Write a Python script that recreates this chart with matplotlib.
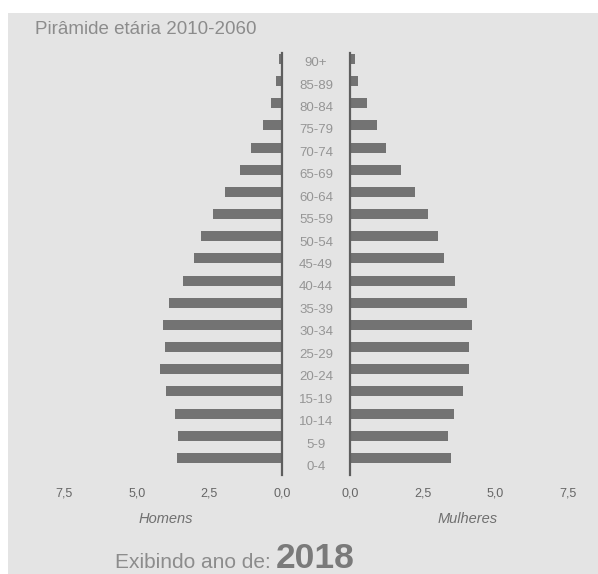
import numpy as np
import matplotlib.pyplot as plt
from matplotlib.patches import Rectangle

plt.rcParams['font.family'] = ['Liberation Sans', 'DejaVu Sans']

# age groups, youngest first
grupos = ['0-4', '5-9', '10-14', '15-19', '20-24', '25-29', '30-34', '35-39',
          '40-44', '45-49', '50-54', '55-59', '60-64', '65-69', '70-74',
          '75-79', '80-84', '85-89', '90+']
homens = [3.60, 3.57, 3.68, 4.00, 4.18, 4.04, 4.10, 3.87, 3.42, 3.02,
          2.77, 2.37, 1.95, 1.45, 1.06, 0.64, 0.38, 0.20, 0.10]
mulheres = [3.46, 3.37, 3.57, 3.87, 4.09, 4.09, 4.18, 4.03, 3.60, 3.25,
            3.01, 2.67, 2.23, 1.74, 1.25, 0.92, 0.60, 0.27, 0.17]
ticks = [0.0, 2.5, 5.0, 7.5]
ano = 2018

W, H = 598, 574
fig = plt.figure(figsize=(W / 100, H / 100), dpi=100)
fig.patch.set_facecolor('white')

bg = '#e4e4e4'
bar_c = '#737373'
txt_c = '#8c8c8c'
tick_c = '#666666'

# panel background
fig.patches.append(Rectangle((8 / W, 0), 1 - 8 / W, 1 - 13 / H,
                             transform=fig.transFigure, facecolor=bg,
                             edgecolor='none', zorder=-10))

px = 29.07  # pixels per unit on x
y0, y1 = 53, 475  # axis top/bottom in pixels
bot = 1 - y1 / H
hgt = (y1 - y0) / H

axL = fig.add_axes([40 / W, bot, (282 - 40) / W, hgt])
axR = fig.add_axes([350 / W, bot, (590 - 350) / W, hgt])
pos = np.arange(len(grupos))

for ax, vals in ((axL, homens), (axR, mulheres)):
    ax.barh(pos, vals, height=0.45, color=bar_c, zorder=2)
    ax.set_facecolor('none')
    ax.set_ylim(-0.77, 18.27)
    ax.set_yticks([])
    for s in ('top', 'bottom'):
        ax.spines[s].set_visible(False)
    ax.set_xticks(ticks)
    ax.set_xticklabels([f'{t:.1f}'.replace('.', ',') for t in ticks],
                       fontsize=9, color=tick_c)
    ax.tick_params(axis='x', length=0, pad=9)

axL.set_xlim(242 / px, 0)
axL.spines['left'].set_visible(False)
axL.spines['right'].set_color('#5e5e5e')
axL.spines['right'].set_linewidth(1.6)
axR.set_xlim(0, 240 / px)
axR.spines['right'].set_visible(False)
axR.spines['left'].set_color('#5e5e5e')
axR.spines['left'].set_linewidth(1.6)

# age labels in the middle column
axM = fig.add_axes([282 / W, bot, 68 / W, hgt])
axM.axis('off')
axM.set_ylim(-0.356, 18.45)
axM.set_xlim(0, 1)
for p, g in zip(pos, grupos):
    axM.text(0.5, p, g, ha='center', va='center', fontsize=9.5, color='#959595')

fig.text(35 / W, 1 - 30 / H, 'Pirâmide etária 2010-2060', fontsize=13.5,
         color=txt_c, va='center', ha='left')
fig.text(166 / W, 1 - 519 / H, 'Homens', fontsize=10.5, style='italic',
         color='#707070', ha='center', va='center')
fig.text(468 / W, 1 - 519 / H, 'Mulheres', fontsize=10.5, style='italic',
         color='#707070', ha='center', va='center')
fig.text(115 / W, 1 - 568 / H, 'Exibindo ano de:', fontsize=15, color=txt_c,
         ha='left', va='baseline')
fig.text(276 / W, 1 - 568 / H, str(ano), fontsize=25.5, fontweight='bold',
         color='#7a7a7a', ha='left', va='baseline')

fig.savefig('out.png', dpi=100, facecolor=fig.get_facecolor())
